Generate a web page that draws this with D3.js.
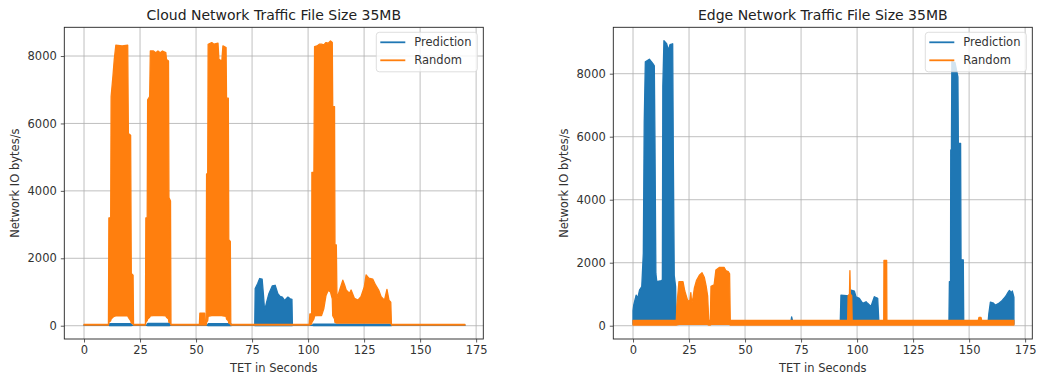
<!DOCTYPE html>
<html>
<head>
<meta charset="utf-8">
<script src="https://cdn.jsdelivr.net/npm/d3@7"></script>
<style>
  body { margin: 0; background: #fff; }
  svg text { font-family: "DejaVu Sans", sans-serif; }
</style>
</head>
<body>
<svg id="chart" width="1039" height="381"></svg>
<script>
// tick labels
const xTicks = [0, 25, 50, 75, 100, 125, 150, 175];
const yTicks = [0, 2000, 4000, 6000, 8000];
const seriesNames = ["Prediction", "Random"];

// each point: [seconds, upper value, lower value] of the fast-oscillating trace
const cloudPrediction = [
  [0, 20, 10], [11, 20, 10], [11.5, 60, 0], [21, 60, 0], [21.5, 20, 10],
  [28, 20, 10], [28.5, 70, 0], [38, 70, 0], [38.5, 20, 10],
  [55, 20, 10], [55.5, 60, 0], [65.5, 60, 0], [66, 20, 10],
  [76.2, 20, 10], [76.4, 1100, 0], [77.5, 1250, 0], [78.4, 1400, 0], [79.5, 1380, 0],
  [80.1, 900, 0], [80.6, 450, 0], [81.5, 700, 0], [82.5, 950, 0], [84, 1180, 0],
  [85.3, 1200, 0], [86.5, 950, 0], [87.5, 870, 0], [88.5, 850, 0], [89.5, 750, 0],
  [91, 850, 0], [92, 800, 0], [92.8, 780, 0], [93, 20, 10],
  [102, 20, 10], [102.5, 50, 0], [137, 50, 0], [137.5, 20, 10], [170, 20, 10]
];

const cloudRandom = [
  [0, 40, 20], [10.9, 40, 20], [11.1, 3200, 100], [11.9, 3200, 150], [12.1, 6800, 200],
  [12.9, 7400, 250], [13.5, 7900, 280], [14.2, 8320, 290], [17, 8300, 290], [19.5, 8320, 290],
  [19.8, 5700, 250], [20.8, 5650, 150], [21.1, 1550, 80], [21.9, 1500, 50], [22.1, 40, 20],
  [27.4, 40, 20], [27.6, 3200, 100], [28.2, 3200, 150], [28.4, 6700, 200], [29.3, 6800, 250],
  [29.6, 8150, 290], [31, 8150, 300], [32, 8100, 300], [33, 8150, 300], [34, 8100, 300],
  [35, 8150, 300], [36.5, 8100, 290], [36.8, 7900, 250], [37.7, 7850, 200], [37.9, 3800, 100],
  [38.6, 3700, 80], [38.8, 40, 20],
  [51.5, 40, 20], [51.7, 370, 20], [53.8, 370, 20], [54, 40, 20], [54.5, 40, 20],
  [54.7, 4500, 100], [55.2, 4500, 150], [55.4, 8350, 280], [57, 8400, 300], [58, 8350, 300],
  [59.8, 8380, 300], [60.2, 7900, 300], [61.5, 7850, 300], [62, 8300, 290], [63.4, 8250, 280],
  [63.6, 6750, 200], [64.4, 6750, 150], [64.6, 2550, 80], [65.3, 2500, 50], [65.5, 40, 20],
  [100.5, 40, 20], [100.8, 350, 20], [101.6, 350, 50], [101.7, 4550, 100], [102.6, 4550, 200],
  [102.9, 8280, 290], [104, 8300, 300], [105, 8350, 300], [106, 8350, 300], [107, 8330, 500],
  [108, 8400, 900], [109, 8380, 1050], [110, 8450, 1000], [110.8, 8400, 800], [111, 6500, 300],
  [111.8, 6500, 200], [112, 2400, 100], [112.6, 2400, 80], [112.9, 810, 80],
  [114.1, 1060, 80], [115.5, 1350, 80], [116.3, 1210, 80], [117, 1060, 80], [118.5, 960, 80],
  [119.2, 1060, 80], [120.7, 810, 80], [122.2, 760, 80], [123.6, 860, 80], [125.1, 1160, 80],
  [125.9, 1510, 80], [127.1, 1410, 80], [128.9, 1380, 80], [130.1, 1210, 80], [131.5, 1060, 80],
  [132.6, 860, 80], [134.1, 760, 80], [135.2, 1080, 80], [136.1, 760, 80], [136.9, 700, 80],
  [137.2, 40, 20], [170, 40, 20]
];

const edgePrediction = [
  [0, 480, 50], [0.3, 650, 50], [1.4, 970, 50], [2.1, 870, 50], [2.9, 1130, 50],
  [3.9, 1240, 50], [4.6, 2300, 50], [5.0, 6450, 50], [5.5, 8380, 50], [7.3, 8460, 50],
  [8.8, 8330, 50], [9.5, 8250, 50], [9.8, 5800, 50], [10.2, 1660, 50], [10.6, 1400, 50],
  [12.6, 1430, 50], [13.1, 1450, 50], [13.3, 7600, 50], [13.8, 9050, 50], [15, 8950, 50],
  [15.8, 8750, 50], [16.5, 8920, 50], [17.7, 8950, 50], [18.0, 5300, 50], [18.4, 1600, 50],
  [19.0, 1240, 50], [19.3, 150, 50],
  [70.5, 150, 50], [70.8, 280, 50], [71.2, 150, 50],
  [92.5, 150, 50], [92.8, 970, 50], [96.5, 950, 50], [97.3, 1130, 50], [98.8, 1100, 50],
  [99.5, 920, 50], [101, 870, 50], [102.5, 710, 50], [104, 760, 50], [104.7, 710, 50],
  [106.2, 610, 50], [107.7, 920, 50], [109.2, 870, 50], [109.7, 150, 50],
  [141.0, 150, 50], [141.2, 1400, 50], [141.7, 1400, 50], [141.8, 5580, 50], [142.1, 5580, 50],
  [142.3, 8380, 60], [143.7, 8350, 60], [145, 7900, 60], [145.2, 5790, 60], [146.2, 5790, 60],
  [146.4, 2090, 50], [147.4, 2090, 50], [147.6, 150, 50],
  [158.5, 150, 50], [158.8, 380, 50], [159.5, 750, 50], [160.8, 720, 50], [161.6, 650, 50],
  [163, 700, 50], [164.5, 780, 50], [165.6, 870, 50], [166.5, 950, 50], [167.3, 1050, 50],
  [168, 1120, 50], [168.8, 1050, 50], [169.3, 1100, 50], [169.9, 930, 50], [170, 900, 50]
];

const edgeRandom = [
  [0, 170, 20], [19.3, 170, 20], [19.6, 650, 30], [20.5, 1400, 40], [22.3, 1400, 40],
  [23.1, 1100, 40], [24.3, 820, 40], [25.3, 760, 40], [25.8, 1050, 40], [26.2, 700, 40],
  [26.8, 900, 40], [27.4, 1200, 40], [28.3, 1430, 40], [29.6, 1600, 40], [30.8, 1680, 40],
  [31.8, 1540, 40], [32.6, 1270, 40], [33.3, 950, 40], [33.8, 170, 20], [34.5, 170, 20],
  [34.8, 1250, 40], [36.2, 1300, 40], [37, 1770, 40], [38.5, 1850, 40], [40.7, 1850, 40],
  [41.4, 1750, 40], [42.5, 1720, 40], [43.1, 1650, 40], [43.4, 170, 20],
  [95.8, 170, 20], [96, 950, 20], [96.6, 1000, 20], [96.8, 1750, 20], [97.0, 1000, 20],
  [97.6, 950, 20], [97.8, 170, 20],
  [111.9, 170, 20], [112.0, 2070, 20], [113.2, 2070, 20], [113.3, 170, 20],
  [154.1, 170, 20], [154.4, 260, 20], [155.3, 260, 20], [155.6, 170, 20], [170, 170, 20]
];

const colors = ["#1f77b4", "#ff7f0e"];
const svg = d3.select("#chart");

function drawPanel(p) {
  const x = d3.scaleLinear().domain([-8.8, 178.2]).range([p.left, p.right]);
  const y = d3.scaleLinear().domain(p.yDomain).range([p.bottom, p.top]);
  const g = svg.append("g");

  // grid
  g.append("g").selectAll("line").data(xTicks).join("line")
    .attr("x1", d => x(d)).attr("x2", d => x(d))
    .attr("y1", p.top).attr("y2", p.bottom)
    .attr("stroke", "#b0b0b0").attr("stroke-width", 0.8);
  g.append("g").selectAll("line").data(yTicks).join("line")
    .attr("x1", p.left).attr("x2", p.right)
    .attr("y1", d => y(d)).attr("y2", d => y(d))
    .attr("stroke", "#b0b0b0").attr("stroke-width", 0.8);

  // traces
  const area = d3.area()
    .x(d => x(d[0]))
    .y0(d => y(d[2]))
    .y1(d => y(d[1]));
  p.series.forEach((s, i) => {
    g.append("path").datum(s)
      .attr("d", area)
      .attr("fill", colors[i])
      .attr("stroke", colors[i])
      .attr("stroke-width", 1.3)
      .attr("stroke-linejoin", "round");
  });

  // frame
  g.append("rect")
    .attr("x", p.left).attr("y", p.top)
    .attr("width", p.right - p.left).attr("height", p.bottom - p.top)
    .attr("fill", "none").attr("stroke", "#222").attr("stroke-width", 0.9);

  // axes
  const xa = g.append("g").attr("transform", `translate(0,${p.bottom})`)
    .call(d3.axisBottom(x).tickValues(xTicks).tickSize(3.5).tickPadding(3));
  const ya = g.append("g").attr("transform", `translate(${p.left},0)`)
    .call(d3.axisLeft(y).tickValues(yTicks).tickFormat(d3.format("d")).tickSize(3.5).tickPadding(4));
  [xa, ya].forEach(a => {
    a.select(".domain").remove();
    a.selectAll(".tick line").attr("stroke", "#333").attr("stroke-width", 0.8);
    a.selectAll(".tick text").attr("fill", "#333").style("font-size", "11.5px");
  });

  const cx = (p.left + p.right) / 2;
  g.append("text").attr("x", cx).attr("y", 19.5).attr("text-anchor", "middle")
    .attr("fill", "#222").style("font-size", "14px").text(p.title);
  g.append("text").attr("x", cx).attr("y", 372).attr("text-anchor", "middle")
    .attr("fill", "#333").style("font-size", "11.5px").text("TET in Seconds");
  g.append("text")
    .attr("transform", `translate(${p.ylabelX},${(p.top + p.bottom) / 2}) rotate(-90)`)
    .attr("text-anchor", "middle").attr("dy", "0.35em")
    .attr("fill", "#333").style("font-size", "11.5px").text("Network IO bytes/s");

  // legend
  const lg = g.append("g").attr("transform", `translate(${p.right - 107},${p.top + 5})`);
  lg.append("rect").attr("width", 101).attr("height", 39.5).attr("rx", 3)
    .attr("fill", "#fff").attr("fill-opacity", 0.8)
    .attr("stroke", "#d5d5d5").attr("stroke-width", 0.8);
  seriesNames.forEach((name, i) => {
    const ry = 10 + i * 18;
    lg.append("line").attr("x1", 4).attr("x2", 29).attr("y1", ry).attr("y2", ry)
      .attr("stroke", colors[i]).attr("stroke-width", 1.8);
    lg.append("text").attr("x", 38).attr("y", ry).attr("dy", "0.35em")
      .attr("fill", "#333").style("font-size", "11.5px").text(name);
  });
}

drawPanel({
  left: 64.3, right: 483.3, top: 27.3, bottom: 339,
  yDomain: [-394, 8852], ylabelX: 15,
  title: "Cloud Network Traffic File Size 35MB",
  series: [cloudPrediction, cloudRandom]
});
drawPanel({
  left: 613.3, right: 1032.3, top: 27.3, bottom: 339,
  yDomain: [-422, 9473], ylabelX: 564,
  title: "Edge Network Traffic File Size 35MB",
  series: [edgePrediction, edgeRandom]
});
</script>
</body>
</html>
